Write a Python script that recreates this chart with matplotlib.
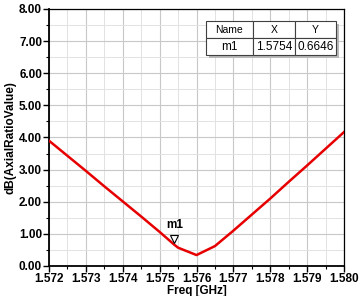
import matplotlib
matplotlib.use('Agg')
import matplotlib.pyplot as plt
import matplotlib.transforms as mtransforms
from matplotlib.patches import Rectangle
from matplotlib.ticker import MultipleLocator

plt.rcParams['font.family'] = ['Liberation Sans', 'DejaVu Sans']

freq = [1.5720, 1.5725, 1.5730, 1.5735, 1.5740, 1.5745, 1.5750, 1.5754, 1.5755,
        1.5760, 1.5765, 1.5770, 1.5775, 1.5780, 1.5785, 1.5790, 1.5795, 1.5800]
axial_ratio = [3.90, 3.43, 2.96, 2.48, 2.01, 1.54, 1.06, 0.66, 0.57,
               0.34, 0.62, 1.10, 1.60, 2.10, 2.62, 3.13, 3.65, 4.17]

marker_name = 'm1'
marker_x = 1.5754
marker_y = 0.6646
table_header = ['Name', 'X', 'Y']
table_row = ['m1', '1.5754', '0.6646']

fig = plt.figure(figsize=(3.61, 2.96), dpi=100)
ax = fig.add_axes([0.1357, 0.1014, 0.8173, 0.8682])

ax.plot(freq, axial_ratio, color='#e60000', lw=1.8, zorder=3)

ax.set_xlim(1.572, 1.580)
ax.set_ylim(0, 8)
ax.xaxis.set_major_locator(MultipleLocator(0.001))
ax.xaxis.set_minor_locator(MultipleLocator(0.0005))
ax.yaxis.set_major_locator(MultipleLocator(1))
ax.yaxis.set_minor_locator(MultipleLocator(0.5))
ax.set_xticklabels([f'{v:.3f}' for v in ax.get_xticks()])
ax.set_yticklabels([f'{v:.2f}' for v in ax.get_yticks()])
ax.grid(which='major', color='#c8c8c8', lw=0.8)
ax.grid(which='minor', color='#e2e2e2', lw=0.7)
ax.set_axisbelow(True)

ax.tick_params(which='major', direction='out', length=4, width=1, pad=1,
               labelsize=8.5)
ax.tick_params(which='minor', direction='out', length=2.5, width=0.8)
for lbl in ax.get_xticklabels() + ax.get_yticklabels():
    lbl.set_fontweight('bold')

for s in ax.spines.values():
    s.set_color('black')
    s.set_linewidth(0.9)
ax.spines['left'].set_linewidth(1.3)
ax.spines['bottom'].set_linewidth(1.3)

ax.set_xlabel('Freq [GHz]', fontsize=8.5, fontweight='bold', labelpad=0)
ax.set_ylabel('dB(AxialRatioValue)', fontsize=8.5, fontweight='bold', labelpad=2)

# marker triangle drawn just above the point
tr = mtransforms.offset_copy(ax.transData, fig=fig, x=0, y=4, units='points')
ax.plot([marker_x], [marker_y], marker='v', ms=6, mfc='white', mec='black',
        mew=0.8, transform=tr, zorder=4)
ax.annotate(marker_name, (marker_x, marker_y), xytext=(0, 10),
            textcoords='offset points', ha='center', va='bottom',
            fontsize=8.5, fontweight='bold')

# marker table
x0, x1 = 0.532, 0.973
y0, y1 = 0.821, 0.953
shadow = Rectangle((x0 + 0.01, y0 - 0.012), x1 - x0, y1 - y0,
                   transform=ax.transAxes, facecolor='#b8b8b8',
                   edgecolor='none', zorder=5)
ax.add_patch(shadow)
tbl = ax.table(cellText=[table_row], colLabels=table_header,
               cellLoc='center', bbox=[x0, y0, x1 - x0, y1 - y0],
               colWidths=[47, 42, 41], zorder=6)
tbl.auto_set_font_size(False)
for (r, c), cell in tbl.get_celld().items():
    cell.set_edgecolor('#404040')
    cell.set_linewidth(0.8)
    cell.set_facecolor('white')
    cell.get_text().set_fontsize(7.5 if r == 0 else 8.5)

fig.savefig('out.png', dpi=100)
